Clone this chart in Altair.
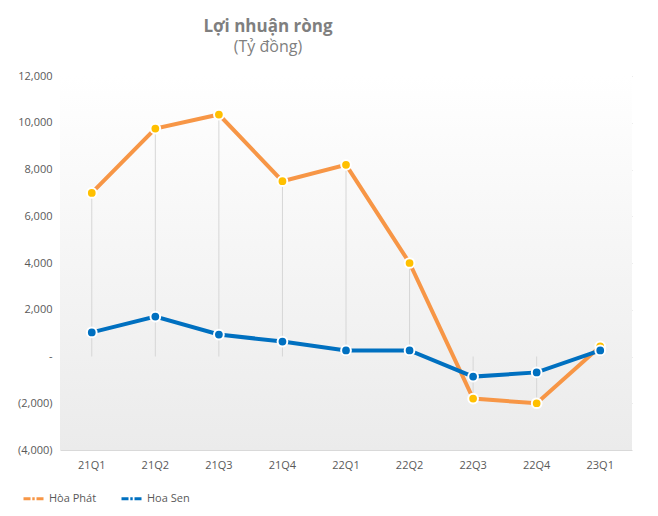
import altair as alt
import pandas as pd

quarters = ["21Q1", "21Q2", "21Q3", "21Q4", "22Q1", "22Q2", "22Q3", "22Q4", "23Q1"]
hoa_phat = [7000, 9750, 10350, 7500, 8200, 4000, -1800, -2000, 430]
hoa_sen = [1030, 1710, 940, 640, 260, 260, -860, -680, 260]
series_names = ["Hòa Phát", "Hoa Sen"]
line_colors = ["#f79646", "#0070c0"]
dot_colors = ["#ffc000", "#0070c0"]

rows = []
for q, a, b in zip(quarters, hoa_phat, hoa_sen):
    rows.append({"q": q, "s": series_names[0], "v": a})
    rows.append({"q": q, "s": series_names[1], "v": b})
df = pd.DataFrame(rows)
drop_df = pd.DataFrame({"q": quarters, "v": hoa_phat, "z": [0] * len(quarters)})

W, H = 572, 374
FONT = "Open Sans"

xenc = alt.X("q:N", sort=quarters, title=None,
             scale=alt.Scale(paddingInner=1, paddingOuter=0.5),
             axis=alt.Axis(labelAngle=0, labelColor="#595959", labelFontSize=11,
                           labelFont=FONT, domain=False, ticks=False, grid=False, labelPadding=9))
yscale = alt.Scale(domain=[-4000, 12000], nice=False)
yaxis = alt.Axis(values=list(range(-4000, 12001, 2000)), labelColor="#595959", labelFontSize=11,
                 labelFont=FONT, domain=False, ticks=False, gridColor="#d9d9d9", labelPadding=8,
                 labelExpr="datum.value == 0 ? '-' : (datum.value < 0 ? '(' + format(-datum.value, ',') + ')' : format(datum.value, ','))")

bg = alt.Chart(pd.DataFrame({"a": [0]})).mark_rect(
    color=alt.Gradient(gradient="linear", x1=0, y1=0, x2=0, y2=1,
                       stops=[alt.GradientStop(offset=0, color="#ffffff"),
                              alt.GradientStop(offset=1, color="#ebebeb")])
).encode(x=alt.value(0), x2=alt.value(W), y=alt.value(0), y2=alt.value(H))

grid = alt.Chart(df).mark_point(opacity=0).encode(
    x=xenc, y=alt.Y("v:Q", scale=yscale, axis=yaxis, title=None))

drops = alt.Chart(drop_df).mark_rule(color="#d6d6d6", strokeWidth=1).encode(
    x=alt.X("q:N", sort=quarters), y=alt.Y("v:Q", scale=yscale), y2="z:Q")

color_scale = alt.Scale(domain=series_names, range=line_colors)
lines = alt.Chart(df).mark_line(strokeWidth=4).encode(
    x=alt.X("q:N", sort=quarters),
    y=alt.Y("v:Q", scale=yscale),
    color=alt.Color("s:N", scale=color_scale, sort=series_names, title=None,
                    legend=alt.Legend(orient="none", legendX=-38, legendY=411, direction="horizontal",
                                      symbolType="M-1,0H-0.3M-0.12,0H0.12M0.3,0H1", symbolSize=400,
                                      symbolStrokeWidth=3, labelFont=FONT, labelFontSize=11,
                                      labelColor="#595959", columnPadding=18, labelOffset=4)))

points = alt.Chart(df).mark_point(filled=True, size=95, stroke="white", strokeWidth=2, opacity=1).encode(
    x=alt.X("q:N", sort=quarters),
    y=alt.Y("v:Q", scale=yscale),
    fill=alt.Fill("s:N", scale=alt.Scale(domain=series_names, range=dot_colors), legend=None))

chart = alt.layer(bg, grid, drops, lines, points).properties(
    width=W, height=H,
    padding={"left": 52, "top": 68, "right": 18, "bottom": 56},
    autosize=alt.AutoSizeParams(type="none"),
    title=alt.Title("Lợi nhuận ròng", subtitle="(Tỷ đồng)", anchor="middle", dx=-78, offset=14,
                    font=FONT, fontSize=17, fontWeight="bold", color="#7f7f7f",
                    subtitleFont=FONT, subtitleFontSize=16, subtitleColor="#7f7f7f", subtitlePadding=3)
).configure_view(stroke=None)

chart.save("out.html", embed_options={"renderer": "svg", "actions": False})
